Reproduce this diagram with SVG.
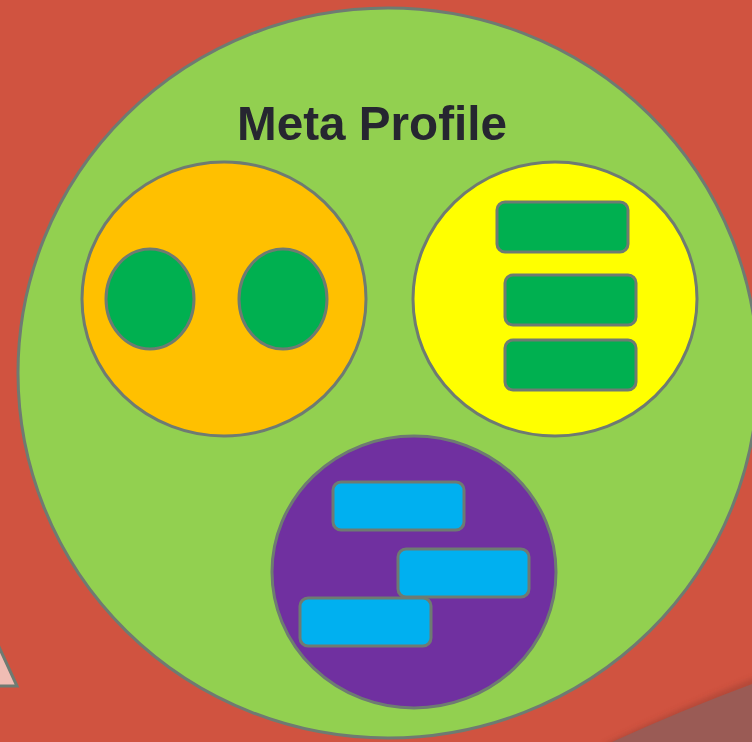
<svg xmlns="http://www.w3.org/2000/svg" width="752" height="742" viewBox="0 0 752 742">
<defs>
<style>
.s{stroke:#6E7B72;stroke-width:3}
.g{fill:#00B050}
.b{fill:#00B0F0}
</style>
<filter id="blur" x="-20%" y="-20%" width="140%" height="140%"><feGaussianBlur stdDeviation="3"/></filter>
</defs>
<rect width="752" height="742" fill="#D05340"/>
<g id="corner">
<path d="M 606 748 Q 680 712 760 680" fill="none" stroke="#8E3A2E" stroke-width="6" opacity="0.6" filter="url(#blur)"/>
<path d="M 612 742 Q 682 710 752 684 L 752 742 Z" fill="#9A5B55"/>
</g>
<g id="triangle">
<path d="M -6 636 L 17 686 L -6 686 Z" fill="#F0BDB4" class="s"/>
</g>
<g id="meta-profile">
<ellipse cx="388" cy="373" rx="370" ry="365" fill="#92D050" class="s"/>
<text x="372" y="140" text-anchor="middle" font-family="Liberation Sans, Arial, sans-serif" font-weight="bold" font-size="49" fill="#262630" textLength="270" lengthAdjust="spacingAndGlyphs">Meta Profile</text>
</g>
<g id="orange-node">
<ellipse cx="224" cy="299" rx="142" ry="137" fill="#FFC000" class="s"/>
<ellipse cx="150" cy="299" rx="44" ry="50" class="g s"/>
<ellipse cx="283" cy="299" rx="44" ry="50" class="g s"/>
</g>
<g id="yellow-node">
<ellipse cx="555" cy="299" rx="142" ry="137" fill="#FFFF00" class="s"/>
<rect x="497" y="202" width="131" height="50" rx="8" class="g s"/>
<rect x="505" y="275" width="131" height="50" rx="8" class="g s"/>
<rect x="505" y="340" width="131" height="50" rx="8" class="g s"/>
</g>
<g id="purple-node">
<ellipse cx="414" cy="572" rx="142" ry="136" fill="#7030A0" class="s"/>
<rect x="333" y="482" width="131" height="48" rx="8" class="b s"/>
<rect x="398" y="549" width="131" height="48" rx="8" class="b s"/>
<rect x="300" y="598" width="131" height="48" rx="8" class="b s"/>
</g>
<g id="connectors"/>
</svg>
